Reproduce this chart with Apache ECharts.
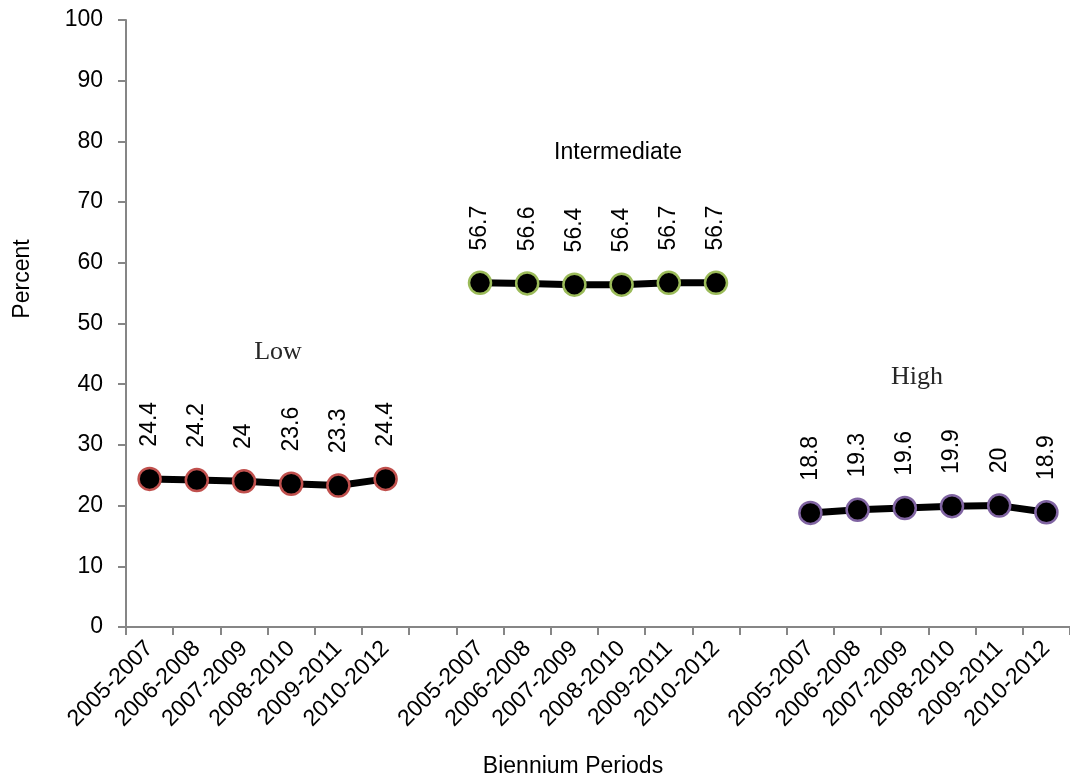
<!DOCTYPE html>
<html>
<head>
<meta charset="utf-8">
<script src="https://cdn.jsdelivr.net/npm/echarts@6/dist/echarts.min.js"></script>
<style>
html,body{margin:0;padding:0;background:#fff;}
#chart{width:1070px;height:780px;}
</style>
</head>
<body>
<div id="chart"></div>
<script>
const periods = ['2005-2007','2006-2008','2007-2009','2008-2010','2009-2011','2010-2012'];
const groupNames = ['Low','Intermediate','High'];
const lowValues = [24.4, 24.2, 24, 23.6, 23.3, 24.4];
const intermediateValues = [56.7, 56.6, 56.4, 56.4, 56.7, 56.7];
const highValues = [18.8, 19.3, 19.6, 19.9, 20, 18.9];
const yTicks = [0,10,20,30,40,50,60,70,80,90,100];

// categories: 6 periods, gap, 6 periods, gap, 6 periods
const categories = [].concat(periods, [''], periods, [''], periods);
const pad = n => Array(n).fill('-');
const lowData = [].concat(lowValues, pad(14));
const interData = [].concat(pad(7), intermediateValues, pad(7));
const highData = [].concat(pad(14), highValues);

const FONT = '"Liberation Sans", Arial, sans-serif';
const SERIF = '"Liberation Serif", "Times New Roman", serif';
const axisGray = '#868686';
const FS = 23;

function mkSeries(name, data, border) {
  return {
    name: name,
    type: 'line',
    data: data,
    connectNulls: false,
    symbol: 'circle',
    symbolSize: 22,
    itemStyle: { color: '#000', borderColor: border, borderWidth: 2.5 },
    lineStyle: { color: '#000', width: 7 },
    label: {
      show: true,
      position: 'top',
      distance: 20,
      rotate: 90,
      align: 'left',
      verticalAlign: 'middle',
      color: '#000',
      fontFamily: FONT,
      fontSize: FS
    },
    emphasis: { disabled: true },
    animation: false
  };
}

const chart = echarts.init(document.getElementById('chart'), null, { renderer: 'canvas' });
chart.setOption({
  backgroundColor: '#fff',
  animation: false,
  grid: { left: 126, top: 20, width: 955, height: 607, containLabel: false },
  xAxis: {
    type: 'category',
    data: categories,
    boundaryGap: true,
    axisLine: { lineStyle: { color: axisGray, width: 2 } },
    axisTick: { show: true, length: 8, interval: 0, lineStyle: { color: axisGray, width: 2 } },
    axisLabel: { interval: 0, rotate: 45, margin: 18, color: '#000', fontFamily: FONT, fontSize: FS },
    splitLine: { show: false }
  },
  yAxis: {
    type: 'value',
    min: yTicks[0],
    max: yTicks[yTicks.length - 1],
    interval: 10,
    axisLine: { show: true, lineStyle: { color: axisGray, width: 2 } },
    axisTick: { show: true, length: 8, lineStyle: { color: axisGray, width: 2 } },
    axisLabel: { margin: 23, color: '#000', fontFamily: FONT, fontSize: FS },
    splitLine: { show: false }
  },
  graphic: [
    { type: 'text', x: 23, y: 279, rotation: Math.PI / 2,
      style: { text: 'Percent', fill: '#000', font: FS + 'px ' + FONT, align: 'center', verticalAlign: 'middle' } },
    { type: 'text', x: 573, y: 767,
      style: { text: 'Biennium Periods', fill: '#000', font: FS + 'px ' + FONT, align: 'center', verticalAlign: 'middle' } },
    { type: 'text', x: 278, y: 352,
      style: { text: groupNames[0], fill: '#262626', font: '26px ' + SERIF, align: 'center', verticalAlign: 'middle' } },
    { type: 'text', x: 618, y: 153,
      style: { text: groupNames[1], fill: '#000', font: FS + 'px ' + FONT, align: 'center', verticalAlign: 'middle' } },
    { type: 'text', x: 917, y: 377,
      style: { text: groupNames[2], fill: '#262626', font: '26px ' + SERIF, align: 'center', verticalAlign: 'middle' } }
  ],
  series: [
    mkSeries(groupNames[0], lowData, '#C0504D'),
    mkSeries(groupNames[1], interData, '#9BBB59'),
    mkSeries(groupNames[2], highData, '#8064A2')
  ]
});
</script>
</body>
</html>
